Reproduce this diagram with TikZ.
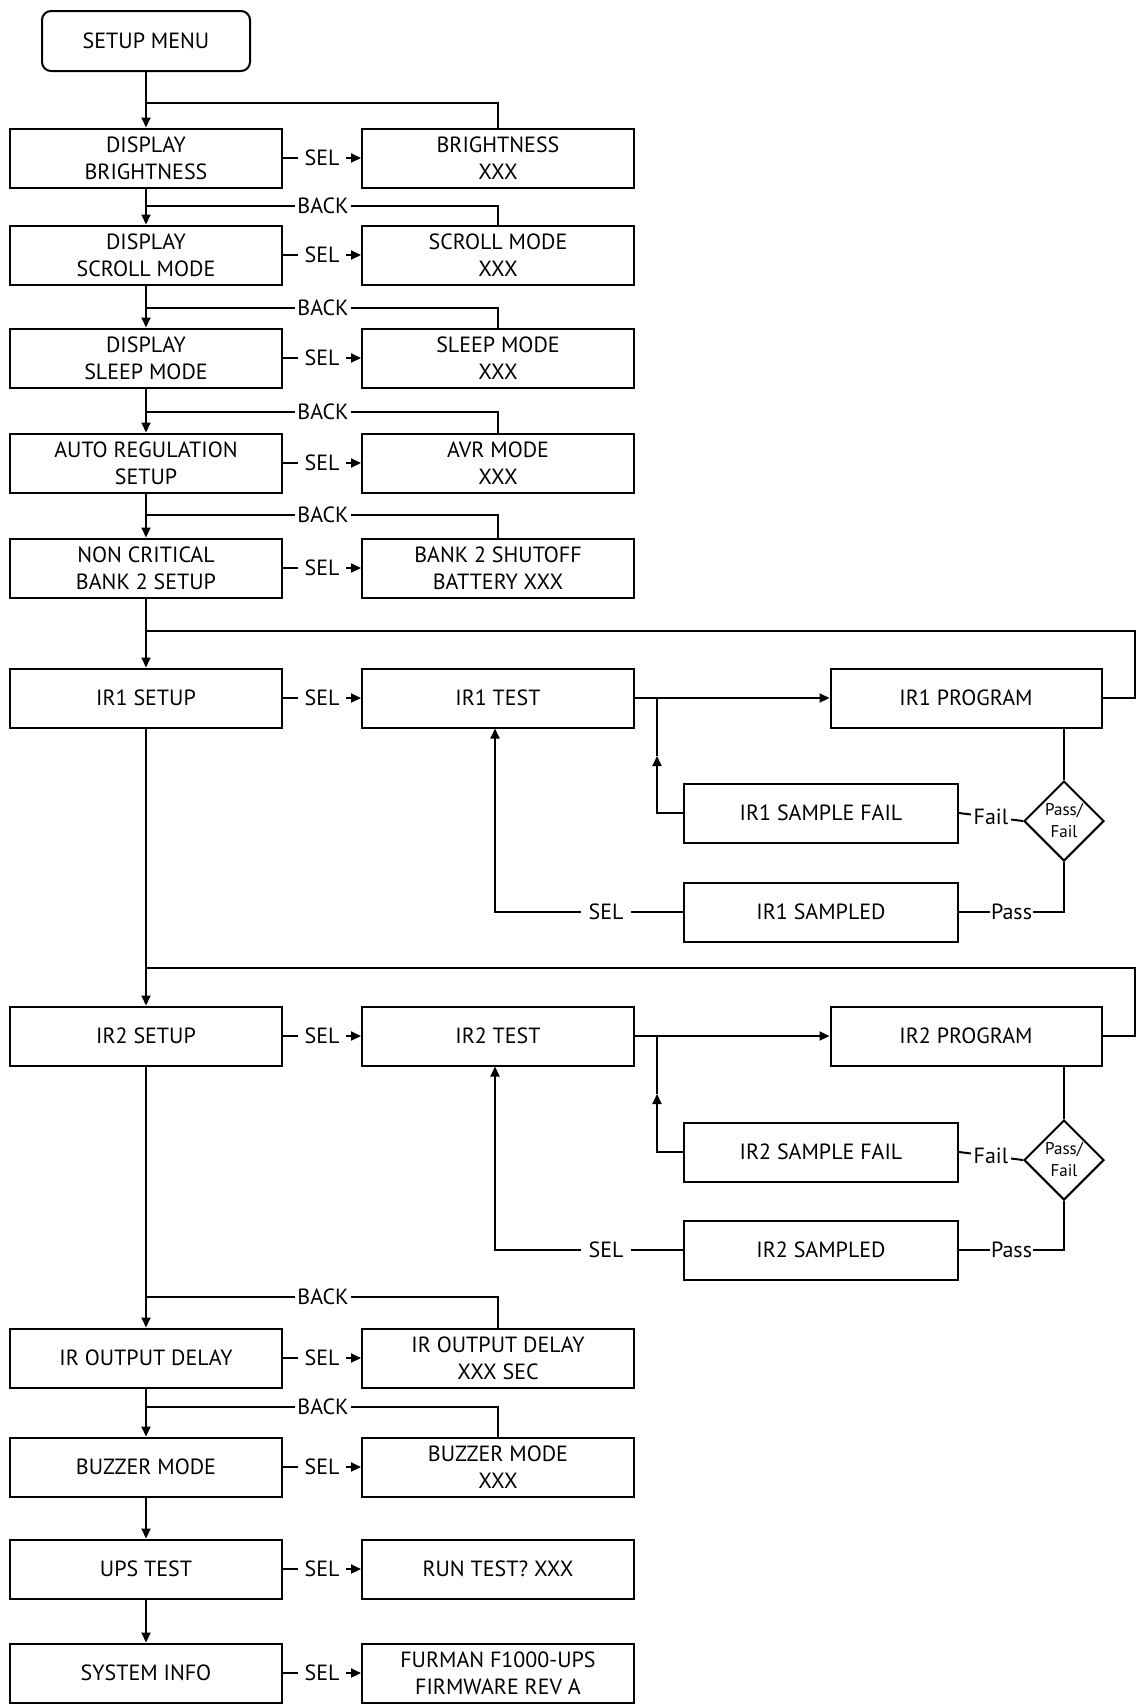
\documentclass[tikz,border=0pt]{standalone}
\usepackage{fontspec}
\setmainfont{PT Sans}
\usetikzlibrary{shapes.geometric,arrows.meta}
\begin{document}
\begin{tikzpicture}[x=1pt,y=-1pt,
  every node/.style={font=\fontsize{22}{27}\selectfont},
  box/.style={draw,line width=2pt,minimum width=272pt,minimum height=59pt,inner sep=0pt,align=center},
  lbl/.style={fill=white,inner sep=3pt},
  sel/.style={fill=white,inner xsep=7pt,inner ysep=3pt},
  ln/.style={line width=2pt},
  arr/.style={ln,-{Triangle[length=10pt,width=9pt]}}]
\useasboundingbox (0,0) rectangle (1143,1706);
\node[draw,line width=2pt,rounded corners=9pt,minimum width=208pt,minimum height=60pt] (sm) at (146,41) {SETUP MENU};
% rows
\node[box] (l1) at (146,158) {DISPLAY\\BRIGHTNESS};
\node[box] (r1) at (498,158) {BRIGHTNESS\\XXX};
\node[box] (l2) at (146,255) {DISPLAY\\SCROLL MODE};
\node[box] (r2) at (498,255) {SCROLL MODE\\XXX};
\node[box] (l3) at (146,358) {DISPLAY\\SLEEP MODE};
\node[box] (r3) at (498,358) {SLEEP MODE\\XXX};
\node[box] (l4) at (146,463) {AUTO REGULATION\\SETUP};
\node[box] (r4) at (498,463) {AVR MODE\\XXX};
\node[box] (l5) at (146,568) {NON CRITICAL\\BANK 2 SETUP};
\node[box] (r5) at (498,568) {BANK 2 SHUTOFF\\BATTERY XXX};
\node[box] (l6) at (146,698) {IR1 SETUP};
\node[box] (r6) at (498,698) {IR1 TEST};
\node[box,minimum width=271pt] (p1) at (966,698) {IR1 PROGRAM};
\node[box,minimum width=274pt] (f1) at (821,813) {IR1 SAMPLE FAIL};
\node[box,minimum width=274pt] (s1) at (821,912) {IR1 SAMPLED};
\node[draw,line width=2pt,diamond,minimum width=80pt,minimum height=80pt,inner sep=0pt,align=center,font=\fontsize{17}{22}\selectfont] (d1) at (1064,821) {Pass/\\Fail};
\node[box] (l7) at (146,1036) {IR2 SETUP};
\node[box] (r7) at (498,1036) {IR2 TEST};
\node[box,minimum width=271pt] (p2) at (966,1036) {IR2 PROGRAM};
\node[box,minimum width=274pt] (f2) at (821,1152) {IR2 SAMPLE FAIL};
\node[box,minimum width=274pt] (s2) at (821,1250) {IR2 SAMPLED};
\node[draw,line width=2pt,diamond,minimum width=80pt,minimum height=80pt,inner sep=0pt,align=center,font=\fontsize{17}{22}\selectfont] (d2) at (1064,1160) {Pass/\\Fail};
\node[box] (l8) at (146,1358) {IR OUTPUT DELAY};
\node[box] (r8) at (498,1358) {IR OUTPUT DELAY\\XXX SEC};
\node[box] (l9) at (146,1467) {BUZZER MODE};
\node[box] (r9) at (498,1467) {BUZZER MODE\\XXX};
\node[box] (l10) at (146,1569) {UPS TEST};
\node[box] (r10) at (498,1569) {RUN TEST? XXX};
\node[box] (l11) at (146,1673) {SYSTEM INFO};
\node[box] (r11) at (498,1673) {FURMAN F1000-UPS\\FIRMWARE REV A};
% SEL connectors
\foreach \i in {1,...,11}{
  \draw[arr] (l\i) -- node[sel]{SEL} (r\i);
}
% main vertical arrows
\draw[arr] (sm) -- (l1);
\foreach \a/\b in {l1/l2,l2/l3,l3/l4,l4/l5,l5/l6,l6/l7,l7/l8,l8/l9,l9/l10,l10/l11}{
  \draw[arr] (\a) -- (\b);
}
% back loops
\coordinate (j1) at (146,103);
\draw[ln] (r1.north) |- (j1);
\foreach \i/\y in {2/206,3/308,4/412,5/515,8/1297,9/1407}{
  \coordinate (j\i) at (146,\y);
  \node[lbl,inner sep=2pt] (bk\i) at (323,\y) {BACK};
  \draw[ln] (r\i.north) |- (bk\i.east);
  \draw[ln] (bk\i.west) -- (j\i);
}
% IR loops
\foreach \k/\r/\y in {1/6/631,2/7/968}{
  \coordinate (ja\k) at (146,\y);
  \coordinate (rt\k) at (1135,\y);
  \draw[ln] (p\k.east) -| (rt\k) -- (ja\k);
  \draw[arr] (r\r.east) -- (p\k.west);
}
% IR1 internals
\coordinate (u1) at (657,756);
\coordinate (v1) at (657,698);
\draw[arr] (f1.west) -| (u1);
\draw[ln] (u1) -- (v1);
\draw[ln] (d1.north |- p1.south) -- (d1.north);
\draw[ln] (d1.west) -- node[lbl]{Fail} (f1.east);
\coordinate (w1) at (1064,912);
\draw[ln] (d1.south) -- (w1) -- node[lbl,inner sep=1pt]{Pass} (s1.east);
\node[sel] (sl1) at (606,912) {SEL};
\coordinate (x1) at (495,912);
\draw[ln] (s1.west) -- (sl1.east);
\draw[arr] (sl1.west) -- (x1) -- (r6.south -| x1);
% IR2 internals
\coordinate (u2) at (657,1094);
\coordinate (v2) at (657,1036);
\draw[arr] (f2.west) -| (u2);
\draw[ln] (u2) -- (v2);
\draw[ln] (d2.north |- p2.south) -- (d2.north);
\draw[ln] (d2.west) -- node[lbl]{Fail} (f2.east);
\coordinate (w2) at (1064,1250);
\draw[ln] (d2.south) -- (w2) -- node[lbl,inner sep=1pt]{Pass} (s2.east);
\node[sel] (sl2) at (606,1250) {SEL};
\coordinate (x2) at (495,1250);
\draw[ln] (s2.west) -- (sl2.east);
\draw[arr] (sl2.west) -- (x2) -- (r7.south -| x2);
\end{tikzpicture}
\end{document}
